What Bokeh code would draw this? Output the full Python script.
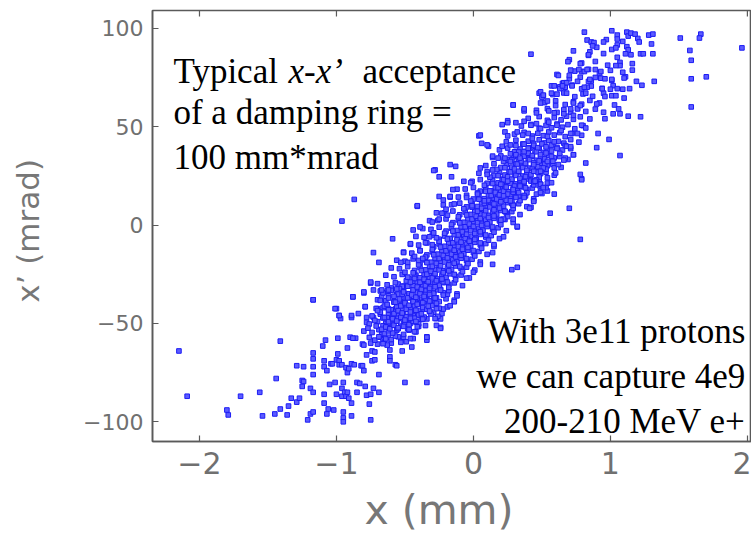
from bokeh.plotting import figure
from bokeh.models import FixedTicker, Label, Range1d, ColumnDataSource
from bokeh.embed import file_html
from bokeh.resources import INLINE

x_ticks = [-2, -1, 0, 1, 2]
y_ticks = [-100, -50, 0, 50, 100]

# (x [mm], x' [mrad]), by region
lower_tail = [
(-2.15,-64),(-2.09,-87),(-1.80,-94),(-1.79,-96.5),(-1.70,-87),(-1.56,-85),(-1.54,-97),(-1.45,-96),(-1.44,-78),(-1.41,-59),
(-1.36,-96.5),(-1.41,-93.5),(-1.35,-92),(-1.33,-88),(-1.29,-90),(-1.27,-88),(-1.29,-71.5),(-1.24,-72),(-1.25,-79),(-1.24,-79.5),
(-1.25,-82),(-1.21,-99),(-1.19,-96),(-1.17,-95),(-1.17,-38),(-1.19,-83),(-1.17,-85),(-1.17,-72),(-1.17,-76),(-1.17,-65),
(-1.17,-68),(-1.09,-72),(-1.09,-86),(-1.09,-90.5),(-1.09,-69),(-1.07,-74),(-1.10,-61.5),(-1.08,-58.5),(-1.06,-93.5),(-1.07,-96),
(-1.05,-81),(-1.04,-70.5),(-1.03,-70.5),(-1.01,-80),(-1.02,-94),(-1.00,-86),(-1.00,-68.5),(-0.99,-65.5),(-0.99,-57.5),(-0.98,-69),
(-0.98,-46),(-0.97,-47.5),(-1.00,-42.5),(-0.96,-83),(-0.95,-80),(-0.95,-95),(-0.95,-98),(-0.95,-100),(-0.96,-87),(-0.94,-85),
(-0.93,-87),(-0.92,-85),(-0.91,-88),(-0.89,-90.5),(-0.89,-97),(-0.98,-71),(-0.96,-71),(-0.93,-72.5),(-0.92,-75),(-0.91,-73),
(-0.89,-70.5),(-0.87,-71),(-0.86,-57.5),(-0.90,-57),(-0.88,-57.5),(-0.92,-62.5),(-0.89,-47),(-0.88,-36.5),(-0.85,-85),(-0.85,-80),
(-0.83,-80.5),(-0.82,-71.5),(-0.81,-71.5),(-0.81,-60.5),(-0.80,-61),(-0.80,-74),(-0.79,-82),(-0.78,-86.5),(-0.78,-66),(-0.79,-41.5),
(-0.78,-47),(-0.78,-49.5),(-0.80,-34.5),(-0.75,-29.5),(-0.73,-33),(-0.75,-99),(-0.76,-91),(-0.75,-86),(-0.74,-64),(-0.74,-69),
(-0.75,-60),(-0.73,-83),(-0.72,-64.5),(-0.72,-68.5),(-0.70,-60.5),(-0.69,-85),(-0.69,-76),(-0.70,-42.5),(-0.73,-47),(-0.68,-33.5),
(-0.63,-33.5),(-0.66,-47),(-0.64,-50),(-0.64,-52),(-0.62,-42.5),(-0.61,-67),(-0.61,-69),(-0.57,-71),(-0.56,-71.5),(-0.61,-63.5),
(-0.60,-60),(-0.53,-59),(-0.52,-64),(-0.51,-57),(-0.50,-80),(-0.45,-62),(-0.34,-58.5),(-0.34,-80),(-0.24,-52),(-0.27,-47.5),
(-0.23,-45),(-0.68,-57),(-0.66,-58.5),(-0.65,-59.5),(-0.63,-61),(-0.67,-55.5),(-0.62,-57),
]

lower_core = [
(-0.63,-41.8),(-0.60,-44.3),(-0.57,-42.7),(-0.55,-46),(-0.51,-45.2),(-0.49,-47.7),(-0.45,-46.8),(-0.42,-49.3),(-0.39,-46),(-0.37,-42.7),
(-0.34,-47.7),(-0.29,-44.3),(-0.27,-41),(-0.22,-42.7),(-0.51,-50.2),(-0.48,-52.7),(-0.42,-54.3),(-0.60,-51),(-0.56,-53.5),(-0.64,-38.5),
(-0.62,-36),(-0.56,-35.2),(-0.51,-37.7),(-0.44,-39.3),(-0.39,-37.7),(-0.34,-36),(-0.29,-34.3),(-0.24,-32.7),(-0.22,-29.3),(-0.19,-35.2),
(-0.51,-31),(-0.44,-29.3),(-0.37,-28.5),(-0.32,-31),(-0.24,-47.7),(-0.27,-51),(-0.34,-56.8),(-0.44,-57.7),(-0.49,-59.3),(-0.55,-56.8),
(-0.58,-39),(-0.53,-40.5),(-0.47,-42),(-0.43,-43.5),(-0.40,-40),(-0.36,-39),(-0.31,-38.5),(-0.27,-37),(-0.47,-35),(-0.41,-33),
(-0.35,-33.5),(-0.30,-30),(-0.26,-28),(-0.53,-47.5),(-0.46,-50),(-0.40,-51.5),(-0.58,-48),(-0.62,-45.5),(-0.66,-42),(-0.50,-42.5),
(-0.44,-46),(-0.38,-48),(-0.32,-44),(-0.28,-39.5),(-0.70,-38),(-0.67,-36.5),(-0.60,-32),(-0.55,-30),(-0.48,-27),(-0.42,-25.5),
]

core = [
(-0.72,-58.5),(-0.69,-56.8),(-0.64,-57.9),(-0.60,-58.2),(-0.57,-56.4),(-0.53,-59.6),(-0.76,-57.1),(-0.66,-60.3),
(-0.74,-54.6),(-0.69,-53.2),(-0.65,-55.1),(-0.62,-53.8),(-0.59,-54.9),(-0.55,-52.7),(-0.51,-55.6),(-0.47,-53.4),(-0.80,-53.9),(-0.43,-54.2),
(-0.76,-50.3),(-0.70,-49.1),(-0.66,-51.2),(-0.62,-49.8),(-0.59,-50.9),(-0.56,-48.7),(-0.53,-51.4),(-0.50,-49.5),(-0.47,-50.6),(-0.44,-48.9),(-0.40,-50.2),(-0.35,-51.1),
(-0.74,-46.2),(-0.68,-45.3),(-0.63,-47.1),(-0.59,-45.8),(-0.55,-47.4),(-0.52,-44.9),(-0.49,-46.6),(-0.46,-45.1),(-0.43,-47.3),(-0.40,-45.6),(-0.36,-46.8),(-0.31,-45.2),(-0.26,-46.4),
(-0.71,-42.4),(-0.65,-41.2),(-0.60,-43.1),(-0.56,-41.7),(-0.52,-42.9),(-0.49,-40.8),(-0.46,-42.6),(-0.43,-41.1),(-0.40,-43.4),(-0.37,-41.9),(-0.34,-42.8),(-0.30,-40.9),(-0.25,-42.3),(-0.19,-41.6),
(-0.68,-38.3),(-0.62,-37.1),(-0.58,-39.2),(-0.54,-37.6),(-0.50,-38.8),(-0.47,-36.9),(-0.44,-38.5),(-0.41,-37.3),(-0.38,-39.4),(-0.35,-37.8),(-0.32,-38.6),(-0.29,-36.7),(-0.25,-38.9),(-0.20,-37.5),(-0.14,-38.2),
(-0.66,-34.5),(-0.60,-33.2),(-0.55,-35.1),(-0.51,-33.7),(-0.47,-34.9),(-0.44,-32.8),(-0.41,-34.3),(-0.38,-33.1),(-0.35,-35.3),(-0.32,-33.6),(-0.29,-34.7),(-0.26,-32.9),(-0.22,-34.4),(-0.18,-33.3),(-0.12,-35.0),
(-0.63,-30.4),(-0.57,-29.3),(-0.52,-31.2),(-0.48,-29.7),(-0.44,-30.9),(-0.41,-28.8),(-0.37,-30.5),(-0.34,-29.1),(-0.31,-31.3),(-0.28,-29.6),(-0.25,-30.7),(-0.22,-28.9),(-0.18,-30.2),(-0.14,-29.4),(-0.08,-30.8),(-0.70,-29.8),
(-0.58,-26.3),(-0.52,-25.1),(-0.47,-27.2),(-0.43,-25.6),(-0.39,-26.8),(-0.36,-24.9),(-0.32,-26.5),(-0.29,-25.2),(-0.26,-27.4),(-0.23,-25.7),(-0.20,-26.6),(-0.17,-24.8),(-0.13,-26.1),(-0.09,-25.4),(-0.03,-26.9),(-0.64,-25.5),
(-0.54,-22.2),(-0.48,-21.1),(-0.43,-23.1),(-0.39,-21.6),(-0.35,-22.8),(-0.32,-20.9),(-0.28,-22.5),(-0.25,-21.2),(-0.22,-23.3),(-0.19,-21.7),(-0.16,-22.6),(-0.13,-20.8),(-0.09,-22.1),(-0.05,-21.4),(0.01,-22.9),(-0.60,-21.8),
(-0.50,-18.4),(-0.44,-17.2),(-0.39,-19.1),(-0.35,-17.7),(-0.31,-18.9),(-0.28,-16.8),(-0.24,-18.5),(-0.21,-17.1),(-0.18,-19.3),(-0.15,-17.6),(-0.12,-18.7),(-0.09,-16.9),(-0.05,-18.2),(-0.01,-17.4),(0.05,-18.8),(-0.56,-17.9),
(-0.45,-14.3),(-0.39,-13.1),(-0.34,-15.2),(-0.30,-13.6),(-0.26,-14.8),(-0.23,-12.9),(-0.19,-14.5),(-0.16,-13.2),(-0.13,-15.3),(-0.10,-13.7),(-0.07,-14.6),(-0.04,-12.8),(0.00,-14.1),(0.04,-13.4),(0.10,-14.9),(-0.51,-13.8),
(-0.40,-10.2),(-0.34,-9.1),(-0.29,-11.1),(-0.25,-9.6),(-0.21,-10.8),(-0.18,-8.9),(-0.14,-10.5),(-0.11,-9.2),(-0.08,-11.3),(-0.05,-9.7),(-0.02,-10.6),(0.01,-8.8),(0.05,-10.1),(0.09,-9.4),(0.15,-10.9),(-0.46,-9.8),
(-0.36,-6.3),(-0.30,-5.1),(-0.25,-7.2),(-0.21,-5.6),(-0.17,-6.8),(-0.14,-4.9),(-0.10,-6.5),(-0.07,-5.2),(-0.04,-7.3),(-0.01,-5.7),(0.02,-6.6),(0.05,-4.8),(0.09,-6.1),(0.13,-5.4),(0.19,-6.9),(-0.42,-5.8),
(-0.31,-2.2),(-0.25,-1.1),(-0.20,-3.1),(-0.16,-1.6),(-0.12,-2.8),(-0.09,-0.9),(-0.05,-2.5),(-0.02,-1.2),(0.01,-3.3),(0.04,-1.7),(0.07,-2.6),(0.10,-0.8),(0.14,-2.1),(0.18,-1.4),(0.24,-2.9),(-0.37,-1.8),
(-0.26,2.3),(-0.20,3.1),(-0.15,1.2),(-0.11,2.6),(-0.07,1.4),(-0.04,3.3),(0.00,1.7),(0.03,3.0),(0.06,0.9),(0.09,2.5),(0.12,1.6),(0.15,3.4),(0.19,2.1),(0.23,2.8),(0.29,1.3),(-0.32,2.2),
(-0.21,6.2),(-0.15,7.1),(-0.10,5.2),(-0.06,6.6),(-0.02,5.4),(0.01,7.3),(0.05,5.7),(0.08,7.0),(0.11,4.9),(0.14,6.5),(0.17,5.6),(0.20,7.4),(0.24,6.1),(0.28,6.8),(0.34,5.3),(-0.27,6.2),
(-0.16,10.3),(-0.10,11.1),(-0.05,9.2),(-0.01,10.6),(0.03,9.4),(0.06,11.3),(0.10,9.7),(0.13,11.0),(0.16,8.9),(0.19,10.5),(0.22,9.6),(0.25,11.4),(0.29,10.1),(0.33,10.8),(0.39,9.3),(-0.22,10.2),
(-0.11,14.2),(-0.05,15.1),(0.00,13.2),(0.04,14.6),(0.08,13.4),(0.11,15.3),(0.15,13.7),(0.18,15.0),(0.21,12.9),(0.24,14.5),(0.27,13.6),(0.30,15.4),(0.34,14.1),(0.38,14.8),(0.44,13.3),(-0.17,14.2),
(-0.06,18.3),(0.00,19.1),(0.05,17.2),(0.09,18.6),(0.13,17.4),(0.16,19.3),(0.20,17.7),(0.23,19.0),(0.26,16.9),(0.29,18.5),(0.32,17.6),(0.35,19.4),(0.39,18.1),(0.43,18.8),(0.49,17.3),(-0.12,18.2),
(-0.01,22.2),(0.05,23.1),(0.10,21.2),(0.14,22.6),(0.18,21.4),(0.21,23.3),(0.25,21.7),(0.28,23.0),(0.31,20.9),(0.34,22.5),(0.37,21.6),(0.40,23.4),(0.44,22.1),(0.48,22.8),(0.54,21.3),(-0.07,22.2),
(0.04,26.3),(0.10,27.1),(0.15,25.2),(0.19,26.6),(0.23,25.4),(0.26,27.3),(0.30,25.7),(0.33,27.0),(0.36,24.9),(0.39,26.5),(0.42,25.6),(0.45,27.4),(0.49,26.1),(0.53,26.8),(0.59,25.3),
(0.09,30.2),(0.15,31.1),(0.20,29.2),(0.24,30.6),(0.28,29.4),(0.31,31.3),(0.35,29.7),(0.38,31.0),(0.41,28.9),(0.44,30.5),(0.47,29.6),(0.50,31.4),(0.54,30.1),(0.58,30.8),(0.64,29.3),
(0.14,34.3),(0.20,35.1),(0.25,33.2),(0.29,34.6),(0.33,33.4),(0.36,35.3),(0.40,33.7),(0.43,35.0),(0.46,32.9),(0.49,34.5),(0.52,33.6),(0.55,35.4),(0.59,34.1),(0.63,34.8),(0.69,33.3),
(0.19,38.2),(0.25,39.1),(0.30,37.2),(0.34,38.6),(0.38,37.4),(0.41,39.3),(0.45,37.7),(0.48,39.0),(0.51,36.9),(0.54,38.5),(0.57,37.6),(0.61,39.4),(0.65,38.1),(0.71,38.8),
(0.24,42.3),(0.31,43.1),(0.36,41.2),(0.40,42.6),(0.44,41.4),(0.48,43.3),(0.52,41.7),(0.55,43.0),(0.58,40.9),(0.62,42.5),(0.66,41.6),(0.71,43.4),(0.77,42.1),
(0.30,46.2),(0.37,47.1),(0.43,45.2),(0.47,46.6),(0.51,45.4),(0.55,47.3),(0.59,45.7),(0.63,47.0),(0.67,44.9),(0.72,46.5),(0.79,45.6),
(0.35,50.3),(0.42,51.1),(0.48,49.2),(0.53,50.6),(0.57,49.4),(0.61,51.3),(0.65,49.7),(0.69,51.0),(0.74,48.9),(0.80,50.5),
(0.40,54.2),(0.48,55.1),(0.54,53.2),(0.59,54.6),(0.64,53.4),(0.68,55.3),(0.73,53.7),(0.78,55.0),(0.85,53.9),
(0.46,58.3),(0.54,59.1),(0.61,57.2),(0.66,58.6),(0.71,57.4),(0.76,59.3),(0.82,57.7),(0.89,58.9),
(0.52,62.2),(0.60,63.1),(0.67,61.2),(0.73,62.6),(0.79,61.4),(0.85,63.3),(0.92,62.0),
(0.58,66.3),(0.66,67.1),(0.74,65.2),(0.80,66.6),(0.87,65.4),(0.95,67.0),
(0.63,70.2),(0.72,71.1),(0.79,69.2),(0.86,70.6),(0.94,69.4),(1.02,70.8),
(0.70,74.3),(0.78,75.1),(0.86,73.2),(0.93,74.6),(1.01,73.5),
(0.74,78.2),(0.84,79.1),(0.92,77.2),(1.00,78.6),(1.09,77.6),
(0.79,82.3),(0.89,83.1),(0.98,81.2),(1.07,82.6),
(0.84,86.2),(0.95,87.1),(1.05,85.2),(1.15,86.5),
(0.90,90.3),(1.01,89.2),(1.12,90.6),
(0.97,94.2),(1.09,93.3),(1.20,94.8),
]

core_mid = [
(-0.77,-52.4),(-0.71,-51.3),(-0.67,-53.0),(-0.64,-51.8),(-0.61,-52.7),(-0.58,-50.9),(-0.55,-52.2),(-0.51,-51.5),(-0.47,-53.1),(-0.41,-51.7),
(-0.72,-48.5),(-0.66,-47.2),(-0.62,-49.1),(-0.59,-47.6),(-0.56,-48.8),(-0.53,-46.9),(-0.50,-48.3),(-0.46,-47.4),(-0.42,-49.0),(-0.37,-47.8),
(-0.68,-44.3),(-0.62,-43.1),(-0.58,-45.0),(-0.55,-43.5),(-0.52,-44.7),(-0.49,-42.8),(-0.46,-44.2),(-0.42,-43.3),(-0.38,-45.1),(-0.32,-43.7),
(-0.63,-40.4),(-0.57,-39.2),(-0.53,-41.1),(-0.50,-39.6),(-0.47,-40.8),(-0.44,-38.9),(-0.41,-40.3),(-0.37,-39.4),(-0.33,-41.2),(-0.27,-39.8),
(-0.58,-36.2),(-0.52,-35.1),(-0.48,-37.0),(-0.45,-35.5),(-0.42,-36.7),(-0.39,-34.8),(-0.36,-36.3),(-0.32,-35.3),(-0.28,-37.1),(-0.22,-35.6),
(-0.54,-32.3),(-0.48,-31.1),(-0.44,-33.0),(-0.41,-31.5),(-0.38,-32.7),(-0.35,-30.8),(-0.32,-32.2),(-0.28,-31.4),(-0.24,-33.1),(-0.18,-31.7),
(-0.49,-28.4),(-0.43,-27.2),(-0.39,-29.1),(-0.36,-27.6),(-0.33,-28.8),(-0.30,-26.9),(-0.27,-28.3),(-0.23,-27.4),(-0.19,-29.0),(-0.13,-27.8),
(-0.44,-24.3),(-0.38,-23.1),(-0.34,-25.0),(-0.31,-23.5),(-0.28,-24.7),(-0.25,-22.8),(-0.22,-24.2),(-0.18,-23.3),(-0.14,-25.1),(-0.08,-23.7),
(-0.40,-20.2),(-0.34,-19.1),(-0.30,-21.0),(-0.27,-19.5),(-0.24,-20.7),(-0.21,-18.8),(-0.18,-20.3),(-0.14,-19.4),(-0.10,-21.1),(-0.04,-19.6),
(-0.35,-16.3),(-0.29,-15.1),(-0.25,-17.0),(-0.22,-15.5),(-0.19,-16.7),(-0.16,-14.8),(-0.13,-16.2),(-0.09,-15.4),(-0.05,-17.1),(0.01,-15.7),
(-0.30,-12.4),(-0.24,-11.2),(-0.20,-13.1),(-0.17,-11.6),(-0.14,-12.8),(-0.11,-10.9),(-0.08,-12.3),(-0.04,-11.4),(0.00,-13.0),(0.06,-11.8),
(-0.25,-8.3),(-0.19,-7.1),(-0.15,-9.0),(-0.12,-7.5),(-0.09,-8.7),(-0.06,-6.8),(-0.03,-8.2),(0.01,-7.3),(0.05,-9.1),(0.11,-7.7),
(-0.21,-4.2),(-0.15,-3.1),(-0.11,-5.0),(-0.08,-3.5),(-0.05,-4.7),(-0.02,-2.8),(0.01,-4.3),(0.05,-3.4),(0.09,-5.1),(0.15,-3.6),
(-0.16,0.3),(-0.10,1.1),(-0.06,-0.9),(-0.03,0.5),(0.00,-0.7),(0.03,1.2),(0.06,-0.2),(0.10,0.6),(0.14,-1.0),(0.20,0.2),
(-0.11,4.2),(-0.05,5.1),(-0.01,3.0),(0.02,4.5),(0.05,3.3),(0.08,5.2),(0.11,3.8),(0.15,4.6),(0.19,2.9),(0.25,4.3),
(-0.07,8.3),(-0.01,9.1),(0.03,7.0),(0.06,8.5),(0.09,7.3),(0.12,9.2),(0.15,7.7),(0.19,8.6),(0.23,6.9),(0.29,8.4),
(-0.02,12.2),(0.04,13.1),(0.08,11.0),(0.11,12.5),(0.14,11.3),(0.17,13.2),(0.20,11.8),(0.24,12.6),(0.28,10.9),(0.34,12.4),
(0.03,16.3),(0.09,17.1),(0.13,15.0),(0.16,16.5),(0.19,15.3),(0.22,17.2),(0.25,15.7),(0.29,16.6),(0.33,14.9),(0.39,16.4),
(0.08,20.2),(0.14,21.1),(0.18,19.0),(0.21,20.5),(0.24,19.3),(0.27,21.2),(0.30,19.8),(0.34,20.6),(0.38,18.9),(0.44,20.4),
(0.12,24.3),(0.18,25.1),(0.22,23.0),(0.25,24.5),(0.28,23.3),(0.31,25.2),(0.34,23.7),(0.38,24.6),(0.42,22.9),(0.48,24.4),
(0.17,28.2),(0.23,29.1),(0.27,27.0),(0.30,28.5),(0.33,27.3),(0.36,29.2),(0.39,27.8),(0.43,28.6),(0.47,26.9),(0.53,28.4),
(0.22,32.3),(0.28,33.1),(0.32,31.0),(0.35,32.5),(0.38,31.3),(0.41,33.2),(0.44,31.7),(0.48,32.6),(0.52,30.9),(0.58,32.4),
(0.27,36.2),(0.33,37.1),(0.37,35.0),(0.40,36.5),(0.43,35.3),(0.46,37.2),(0.49,35.8),(0.53,36.6),(0.57,34.9),(0.63,36.4),
(0.31,40.3),(0.37,41.1),(0.41,39.0),(0.44,40.5),(0.47,39.3),(0.50,41.2),(0.53,39.7),(0.57,40.6),(0.61,38.9),(0.67,40.4),
]

halo = [
(-0.28,28),(-0.87,13),(-0.96,2),(-0.41,9.5),(-1.17,-38),(-0.59,-7),(-0.46,-9.5),(-0.44,-2.5),(-0.39,-1),(-0.73,-14),
(-0.69,-19),(-0.75,-29),(-0.80,-34),(-0.88,-36.5),(-1.01,-42.5),(-0.98,-46),(-0.89,-46),(-0.84,-45),(-0.79,-41.5),(-0.70,-43.5),
(-0.67,-33),(-0.62,-33),(-0.65,-47),(-0.56,-32.5),(-0.51,-34),(-0.53,-19),(-0.48,-19),(-0.51,-14),(-0.50,-24),(-0.48,-26.5),
(-0.46,-29),(-0.43,-16),(-0.39,-13),(-0.40,-18),(-0.37,-17),(-0.35,-9),(-0.32,-6),(-0.30,-10),(-0.29,-4),(-0.27,-6.5),
(-0.30,1.5),(-0.25,3),(-0.23,6),(-0.20,8),(-0.19,5),(-0.25,14.5),(-0.17,14.5),(-0.15,18),(-0.25,24.5),(-0.16,24.5),(-0.17,30.7),
(0.14,-20),(0.14,-14),(0.15,-10),(0.05,-20),(0.00,-24),(-0.05,-27),(-0.12,-36),(-0.14,-39),(-0.17,-41),(-0.27,-42.5),
(-0.28,-47.5),(-0.24,-52.5),(-0.34,-57),(-0.46,-57.7),
(0.32,-1),(0.44,12.3),(0.42,9),(0.49,20.7),(0.54,17.3),(0.44,27.3),(0.51,29),(0.42,22.3),
(0.79,23.5),(0.37,22),(0.44,22),(0.46,23),(0.48,20),(0.53,19),(0.50,16),(0.33,16.5),(0.37,15),(0.31,14),
(0.28,12),(0.44,12),(0.41,8.5),(0.56,6),(0.70,8.5),(0.29,10),(0.29,3),(0.23,7),(0.22,3),(0.20,2.5),
(0.32,-0.7),(0.22,-6),(0.78,-7.3),(0.28,-22.7),(0.32,-21.5),
(0.61,76.5),(0.57,70.7),(0.65,72),(0.67,70),(0.72,70.7),(0.48,67),(0.51,65.7),(0.61,66.5),(0.68,67),(0.49,62),
(0.54,63),(0.60,60.7),(0.29,61),(0.37,58),(0.46,57),(0.55,58),(0.59,57),(0.66,56.5),(0.73,55.7),(0.25,53),
(0.31,52),(0.37,52.7),(0.42,50.7),(0.46,51.5),(0.49,49),(0.55,52.3),(0.61,50.7),(0.64,48),(0.71,46.5),(0.04,45.3),
(0.11,40),(0.06,41.5),(0.21,40),(0.27,40.7),(0.23,47.3),(0.25,45.3),(0.32,47.3),(0.36,45.7),(0.40,46.5),(0.43,44),
(0.54,45),(0.59,42.3),(0.68,40),(0.73,35.7),(0.67,34),(-0.29,27.7),(-0.13,29.8),(-0.02,21.5),(0.05,29),(0.10,25.7),
(0.14,28),(0.18,34),(0.23,34),(0.27,32.3),(0.31,35.7),(0.34,34),(0.37,37.3),(0.40,39),(0.44,30.7),(0.49,27.3),
(0.54,32.3),(0.59,29),(0.45,22.3),(0.49,20.7),(0.46,15.7),(0.59,15.7),(0.20,20.7),(0.25,22.3),(0.29,18),(0.34,19.8),
(0.37,14),(0.27,12.3),(0.22,14.8),(-0.05,14),(0.03,15.7),(0.08,12.3),(0.12,17.3),(0.15,10.7),(-0.01,9.8),(-0.14,10.7),
(-0.22,12.7),(-0.41,9.8),
]

upper = [
(0.42,86.8),(0.81,98),(0.83,94),(0.86,93),(0.88,92.7),(0.87,91),(0.85,88),(0.84,86.5),(0.95,93),(1.01,98.7),
(1.05,96.5),(1.05,94.5),(1.05,91.5),(1.04,90),(1.12,98),(1.13,96),(1.15,97.5),(1.18,97),(1.21,93),(1.13,89),
(1.11,87),(1.22,87),(1.24,87),(1.28,96.5),(1.31,97),(1.30,92),(1.31,87),(1.51,95),(1.66,97),(1.65,95),
(1.58,88.7),(1.59,83.7),(1.59,74.3),(1.70,75.3),(1.59,60),(1.96,90),(1.32,73),(1.23,71),(1.19,73),(1.16,82),
(1.16,78.7),(1.07,81),(1.04,81),(1.11,75.3),(1.10,74.7),(1.14,69.3),(1.09,69),(1.05,69.3),(1.00,69),(1.01,74),
(0.96,74.3),(0.93,78),(0.89,75),(0.94,69.3),(0.96,65.3),(1.01,65.7),(1.04,65.7),(1.10,64.5),(0.90,61.5),(1.03,61),
(1.06,59),(1.02,56.5),(1.07,56.5),(1.13,55.3),(1.22,55),(0.95,57.3),(0.96,54),(0.91,46.5),(0.99,43.5),(0.90,39.3),
(1.07,35.3),(0.82,31.5),(0.78,25.7),(0.79,23),(0.89,79),(0.84,73),(0.85,74),(0.83,70),(0.81,70),(0.82,67),
(0.76,73),(0.79,78),(0.77,79),(0.78,82),(0.73,88.5),(0.70,84),(0.69,83),(0.81,78),(0.83,79),(0.71,78.7),
(0.70,76),(0.66,72.3),(0.68,72.3),(0.63,69.3),(0.65,70.7),(0.62,76),(0.59,70.7),(0.57,67),(0.49,67.7),(0.50,65),
(0.51,66),(0.29,61),(0.37,59),(0.21,51),(0.25,52),(0.05,45.7),(0.10,40.7),(0.14,35),(0.71,59),(0.73,62),
(0.76,59),(0.78,60.7),(0.79,50.7),(0.82,49.3),(0.76,46.5),(0.71,39.8),(0.73,35.7),(0.66,33),(0.62,30.7),(0.60,26.5),
(0.54,24),(0.57,21.5),(0.51,19),(0.49,16.5),
]

groups = [lower_tail, lower_core, core, core_mid, halo, upper]
xs = [pt[0] for g in groups for pt in g]
ys = [pt[1] for g in groups for pt in g]
src = ColumnDataSource(data=dict(x=xs, y=ys))

x_lo, x_hi = -2.343, 2.03
y_lo, y_hi = -110, 109

axis_col = "#5a5a5a"

p = figure(width=751, height=536, output_backend="svg", toolbar_location=None,
           x_range=Range1d(x_lo, x_hi), y_range=Range1d(y_lo, y_hi),
           min_border_left=152, min_border_right=0, min_border_top=10, min_border_bottom=88)
p.outline_line_color = axis_col
p.outline_line_width = 1.6
p.outline_line_alpha = 1.0
p.grid.visible = False
p.background_fill_color = "white"
p.border_fill_color = "white"

p.scatter("x", "y", source=src, marker="square", size=4.6, line_color="#1c1cf5",
          fill_color="#5c5cff", line_width=1)

bottom = p.below[0]
left = p.left[0]

# inward tick marks on the top edge of the frame
p.segment(x0=x_ticks, y0=[y_hi] * len(x_ticks), x1=x_ticks, y1=[y_hi - 3] * len(x_ticks),
          line_color=axis_col, line_width=1.2)

bottom.ticker = FixedTicker(ticks=x_ticks)
left.ticker = FixedTicker(ticks=y_ticks)
for ax in [bottom, left]:
    ax.axis_line_color = axis_col
    ax.axis_line_width = 1.5
    ax.major_tick_line_color = axis_col
    ax.major_tick_line_width = 1.2
    ax.major_tick_in = 6
    ax.major_tick_out = 0
    ax.minor_tick_in = 0
    ax.minor_tick_out = 0
    ax.minor_tick_line_color = None
    ax.major_label_text_color = "#707070"
    ax.major_label_text_font = "DejaVu Sans"
    ax.axis_label_text_font = "DejaVu Sans"
    ax.axis_label_text_color = "#777777"
    ax.axis_label_text_font_style = "normal"

left.major_label_text_font_size = "22px"
left.major_label_standoff = 9
left.axis_label = "x\u2019  (mrad)"
left.axis_label_text_font_size = "31px"
left.axis_label_standoff = 34

bottom.major_label_text_font_size = "30px"
bottom.major_label_standoff = 10
bottom.axis_label = "x   (mm)"
bottom.axis_label_text_font_size = "41px"
bottom.axis_label_standoff = 9

serif = "Liberation Serif"
def lab(x, y, t, align="left", style="normal"):
    p.add_layout(Label(x=x, y=y, text=t, text_font=serif, text_font_size="35px",
                       text_color="black", text_align=align, text_baseline="alphabetic",
                       text_font_style=style))

lab(-2.190, 78, "Typical")
lab(-1.350, 78, "x-x\u2019", style="italic")
lab(-0.810, 78, "acceptance")
lab(-2.190, 57, "of a damping ring =")
lab(-2.190, 34.5, "100 mm*mrad")
lab(1.985, -54.3, "With 3e11 protons", align="right")
lab(1.985, -76.8, "we can capture 4e9", align="right")
lab(1.985, -99.8, "200-210 MeV e+", align="right")

open("out.html", "w").write(file_html(p, INLINE))
